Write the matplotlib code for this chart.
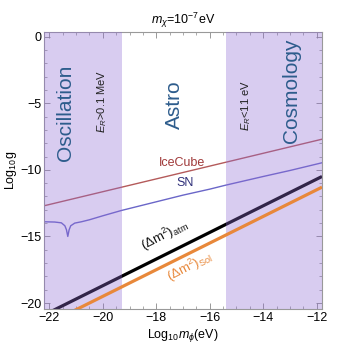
import matplotlib
matplotlib.use("Agg")
import matplotlib.pyplot as plt
import numpy as np
from matplotlib.ticker import MultipleLocator

plt.rcParams['font.family'] = ['Liberation Sans', 'DejaVu Sans']
plt.rcParams['mathtext.fontset'] = 'custom'
plt.rcParams['mathtext.rm'] = 'Liberation Sans'
plt.rcParams['mathtext.it'] = 'Liberation Sans:italic'

# Data
x_icecube = [-22.2, -11.8]
y_icecube = [-12.7, -7.7]

x_sn = [-22.2, -21.8, -21.55, -21.42, -21.36, -21.31, -21.26, -21.2, -21.05, -20.8, -20.5,
        -20.0, -19.3, -18.0, -17.0, -16.0, -15.4, -14.0, -13.0, -11.8]
y_sn = [-13.9, -13.92, -13.98, -14.2, -14.5, -15.0, -14.5, -14.2, -14.0, -13.9, -13.75,
        -13.45, -13.05, -12.4, -11.9, -11.45, -11.15, -10.5, -10.05, -9.47]

x_atm = [-22.2, -11.8]
y_atm = [-20.9, -10.5]

x_sol = [-22.2, -11.8]
y_sol = [-21.7, -11.3]

osc_region = (-22.2, -19.3)
cosmo_region = (-15.38, -11.8)

xlim = (-22.2, -11.8)
ylim = (-20.45, 0.35)

fig = plt.figure(figsize=(3.39, 3.49), dpi=100)
ax = fig.add_axes([44/339, 1-309/349, (322-44)/339, (309-32)/349])

ax.plot(x_icecube, y_icecube, color='#b45a5a', lw=1.0, zorder=2)
ax.plot(x_sn, y_sn, color='#6a66c8', lw=1.0, zorder=2)
ax.plot(x_atm, y_atm, color='black', lw=2.3, zorder=2, solid_capstyle='butt')

shade = (144/255, 109/255, 212/255)
ax.axvspan(*osc_region, color=shade, alpha=0.35, lw=0, zorder=3)
ax.axvspan(*cosmo_region, color=shade, alpha=0.35, lw=0, zorder=3)

ax.plot(x_sol, y_sol, color='#e8883a', lw=2.3, zorder=4, solid_capstyle='butt')

ax.set_xlim(*xlim)
ax.set_ylim(*ylim)

ax.xaxis.set_major_locator(MultipleLocator(2))
ax.xaxis.set_minor_locator(MultipleLocator(0.5))
ax.yaxis.set_major_locator(MultipleLocator(5))
ax.yaxis.set_minor_locator(MultipleLocator(1))
ax.tick_params(which='both', direction='in', top=True, right=True, color='#888888',
               labelsize=9, pad=2)
ax.tick_params(which='major', length=4, width=0.6)
ax.tick_params(which='minor', length=2, width=0.5)
for s in ax.spines.values():
    s.set_color('#999999')
    s.set_linewidth(0.8)

ax.set_xlabel(r'Log$_{10}$$m_{\phi}$(eV)', fontsize=9, labelpad=2)
ax.set_ylabel(r'Log$_{10}$g', fontsize=9, labelpad=1)
ax.set_title(r'$m_{\chi}$=10$^{-7}$eV', fontsize=9, pad=6)

blue = '#2d5c8c'
def fig_text(px, py, s, **kw):
    fig.text(px/339, 1-py/349, s, ha='center', va='center', **kw)

fig_text(66, 113, 'Oscillation', rotation=90, fontsize=15, color=blue)
fig_text(102, 101, r'$E_R$>0.1 MeV', rotation=90, fontsize=8, color='#222222')
fig_text(174, 105, 'Astro', rotation=90, fontsize=15, color=blue)
fig_text(246, 106, r'$E_R$<11 eV', rotation=90, fontsize=8, color='#222222')
fig_text(291, 91, 'Cosmology', rotation=90, fontsize=15, color=blue)

fig_text(182, 163, 'IceCube', fontsize=9, color='#a03a3a')
fig_text(185, 183, 'SN', fontsize=9, color='#30307a')
fig_text(165, 235, r'($\Delta$m$^2$)$_{\rm atm}$', rotation=27, fontsize=9.5, color='#111111')
fig_text(190, 267, r'($\Delta$m$^2$)$_{\rm Sol}$', rotation=27, fontsize=9.5, color='#e8883a')

fig.savefig('out.png', dpi=100)
